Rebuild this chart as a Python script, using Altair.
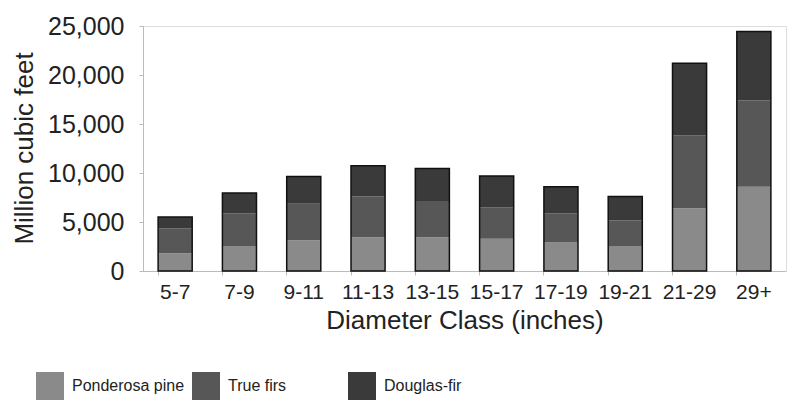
import altair as alt
import pandas as pd

classes = ["5-7", "7-9", "9-11", "11-13", "13-15", "15-17", "17-19", "19-21", "21-29", "29+"]
species = ["Ponderosa pine", "True firs", "Douglas-fir"]
ponderosa = [1800, 2550, 3150, 3450, 3450, 3300, 2900, 2550, 6400, 8600]
true_firs = [2550, 3350, 3700, 4150, 3700, 3200, 3000, 2600, 7450, 8800]
douglas = [1150, 2050, 2800, 3150, 3300, 3200, 2700, 2450, 7350, 7050]
colors = ["#8a8a8a", "#575757", "#3a3a3a"]
y_ticks = [0, 2500, 5000, 7500, 10000, 12500, 15000, 17500, 20000, 22500, 25000]

rows = []
for i, c in enumerate(classes):
    for k, (s, vals) in enumerate(zip(species, [ponderosa, true_firs, douglas])):
        rows.append({"cls": c, "species": s, "order": k, "value": vals[i]})
df = pd.DataFrame(rows)

FONT = "Liberation Sans"

x_enc = alt.X("cls:N", sort=classes,
              scale=alt.Scale(paddingInner=0.47, paddingOuter=0.235),
              axis=alt.Axis(title="Diameter Class (inches)", labelAngle=0,
                            labelFontSize=21, labelColor="#222", labelPadding=6,
                            tickSize=4, tickColor="#bbb", domainColor="#bbb",
                            bandPosition=0, titleFontSize=26, titleFontWeight="normal",
                            titleColor="#222", titleY=57, titleBaseline="alphabetic",
                            labelFont=FONT, titleFont=FONT))

y_scale = alt.Scale(domain=[0, 25000], nice=False)

bars = alt.Chart(df).mark_bar().encode(
    x=x_enc,
    y=alt.Y("value:Q", stack="zero", scale=y_scale,
            axis=alt.Axis(title="Million cubic feet", values=y_ticks,
                          labelExpr="datum.value % 5000 == 0 ? format(datum.value, ',') : ''",
                          labelFontSize=25, labelColor="#222", labelPadding=15,
                          tickSize=4, tickColor="#bbb", domainColor="#bbb", grid=False,
                          titleFontSize=26, titleFontWeight="normal", titleColor="#222",
                          titleX=-119, titleY=122, titleAngle=-90, titleBaseline="middle",
                          titleAlign="center", labelFont=FONT, titleFont=FONT)),
    color=alt.Color("species:N",
                    scale=alt.Scale(domain=species, range=colors),
                    legend=alt.Legend(title=None, orient="none", legendX=-107, legendY=346,
                                      direction="horizontal", columns=3, gridAlign="all",
                                      columnPadding=7, symbolType="square", symbolSize=784,
                                      symbolStrokeWidth=0, labelFontSize=16, labelColor="#222",
                                      labelOffset=8, labelFont=FONT, padding=0)),
    order=alt.Order("order:Q"),
)

outline = alt.Chart(df).mark_bar(fillOpacity=0, stroke="#111", strokeWidth=1.5).encode(
    x=x_enc,
    y=alt.Y("sum(value):Q", scale=y_scale),
)

chart = alt.layer(bars, outline).properties(
    width=643, height=245,
    padding={"left": 143, "top": 26, "right": 1, "bottom": 130},
    autosize=alt.AutoSizeParams(type="none"),
).configure_view(stroke="#c8c8c8", strokeWidth=1).configure(background="white")

chart.save("out.html", embed_options={"renderer": "svg", "actions": False})
